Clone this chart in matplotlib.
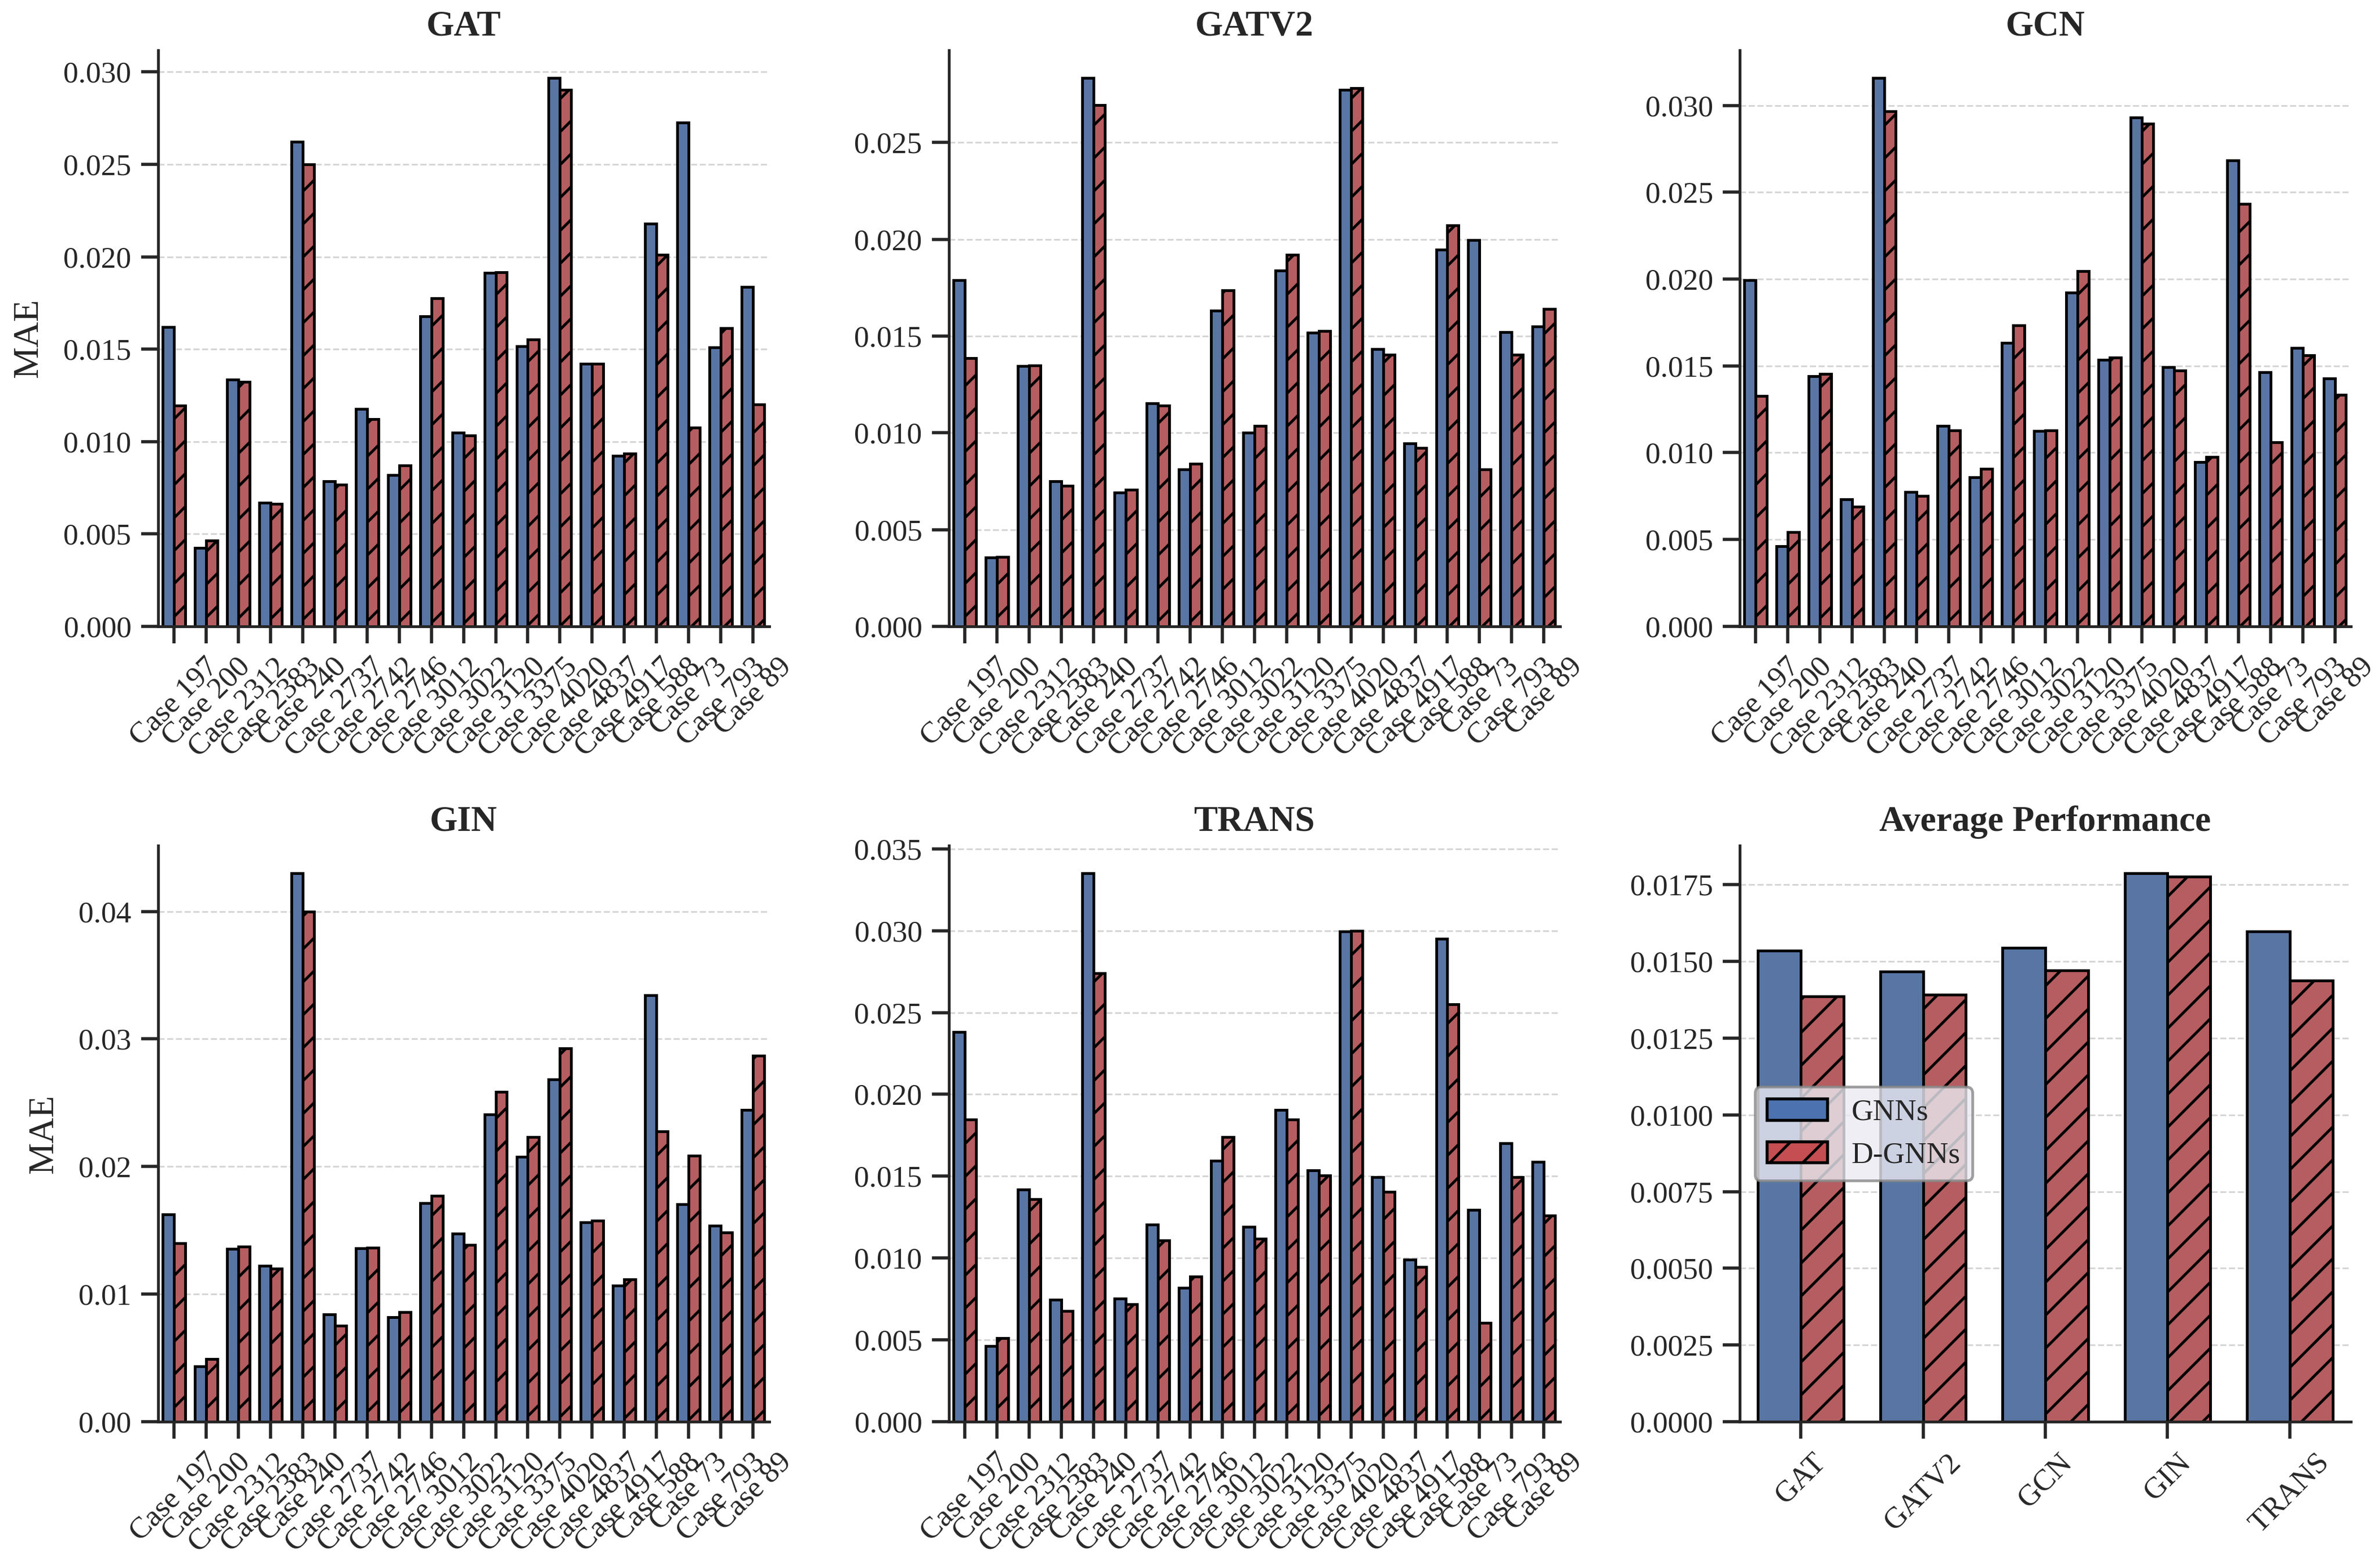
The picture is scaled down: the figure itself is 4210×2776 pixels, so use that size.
import numpy as np
import matplotlib
matplotlib.use('Agg')
from matplotlib import pyplot as plt
from matplotlib.patches import Patch

# test cases (x axis of the per-model panels)
cases = ['Case 197', 'Case 200', 'Case 2312', 'Case 2383', 'Case 240',
         'Case 2737', 'Case 2742', 'Case 2746', 'Case 3012', 'Case 3022',
         'Case 3120', 'Case 3375', 'Case 4020', 'Case 4837', 'Case 4917',
         'Case 588', 'Case 73', 'Case 793', 'Case 89']
models = ['GAT', 'GATV2', 'GCN', 'GIN', 'TRANS']

# MAE values: plain GNN vs D-GNN
gat_gnn = [0.01619, 0.00424, 0.01336, 0.00669, 0.02622, 0.00786, 0.01176, 0.00819, 0.01679, 0.01048,
           0.01913, 0.01515, 0.02968, 0.01421, 0.00923, 0.02180, 0.02725, 0.01509, 0.01836]
gat_dgnn = [0.01194, 0.00465, 0.01322, 0.00662, 0.02501, 0.00768, 0.01123, 0.00871, 0.01776, 0.01033,
            0.01917, 0.01554, 0.02905, 0.01421, 0.00936, 0.02012, 0.01075, 0.01614, 0.01201]

gatv2_gnn = [0.01789, 0.00356, 0.01345, 0.00750, 0.02834, 0.00692, 0.01152, 0.00810, 0.01630, 0.01002,
             0.01838, 0.01517, 0.02772, 0.01433, 0.00945, 0.01947, 0.01996, 0.01521, 0.01549]
gatv2_dgnn = [0.01386, 0.00360, 0.01347, 0.00728, 0.02695, 0.00705, 0.01140, 0.00840, 0.01735, 0.01037,
              0.01919, 0.01525, 0.02780, 0.01405, 0.00923, 0.02071, 0.00810, 0.01403, 0.01639]

gcn_gnn = [0.01995, 0.00461, 0.01441, 0.00733, 0.03158, 0.00774, 0.01154, 0.00858, 0.01634, 0.01125,
           0.01923, 0.01536, 0.02931, 0.01493, 0.00946, 0.02683, 0.01464, 0.01603, 0.01426]
gcn_dgnn = [0.01326, 0.00542, 0.01453, 0.00688, 0.02967, 0.00750, 0.01128, 0.00908, 0.01734, 0.01130,
            0.02047, 0.01548, 0.02893, 0.01472, 0.00977, 0.02434, 0.01061, 0.01560, 0.01333]

gin_gnn = [0.01623, 0.00435, 0.01354, 0.01221, 0.04299, 0.00841, 0.01360, 0.00818, 0.01714, 0.01474,
           0.02409, 0.02075, 0.02682, 0.01562, 0.01065, 0.03344, 0.01705, 0.01536, 0.02445]
gin_dgnn = [0.01399, 0.00490, 0.01373, 0.01201, 0.04000, 0.00753, 0.01364, 0.00860, 0.01770, 0.01386,
            0.02585, 0.02231, 0.02926, 0.01578, 0.01114, 0.02276, 0.02085, 0.01481, 0.02870]

trans_gnn = [0.02381, 0.00463, 0.01417, 0.00744, 0.03351, 0.00752, 0.01205, 0.00818, 0.01595, 0.01190,
             0.01906, 0.01534, 0.02997, 0.01493, 0.00990, 0.02949, 0.01293, 0.01701, 0.01589]
trans_dgnn = [0.01848, 0.00511, 0.01359, 0.00676, 0.02739, 0.00719, 0.01109, 0.00888, 0.01739, 0.01119,
              0.01848, 0.01506, 0.03000, 0.01405, 0.00944, 0.02551, 0.00605, 0.01493, 0.01258]

gnn_all = [gat_gnn, gatv2_gnn, gcn_gnn, gin_gnn, trans_gnn]
dgnn_all = [gat_dgnn, gatv2_dgnn, gcn_dgnn, gin_dgnn, trans_dgnn]

BLUE = '#5975a4'
RED = '#b55d60'
TXT = '#262626'
DPI = 350

plt.rcParams['font.family'] = ['Liberation Serif', 'DejaVu Serif']
plt.rcParams['hatch.linewidth'] = 1.0
plt.rcParams['text.color'] = TXT
plt.rcParams['axes.labelcolor'] = TXT
plt.rcParams['xtick.color'] = TXT
plt.rcParams['ytick.color'] = TXT


def _style(ax):
    ax.spines['top'].set_visible(False)
    ax.spines['right'].set_visible(False)
    for s in ['left', 'bottom']:
        ax.spines[s].set_linewidth(1.0)
        ax.spines[s].set_color(TXT)
    ax.tick_params(axis='both', length=6.2, width=1.15, labelsize=11)
    ax.yaxis.grid(True, linestyle='--', color='#d5d5d5', linewidth=0.6)
    ax.set_axisbelow(True)


def _pairbars(ax, labels, a, b, w=0.35):
    x = np.arange(len(labels))
    ax.bar(x - w/2, a, w, color=BLUE, edgecolor='black', linewidth=1.0)
    ax.bar(x + w/2, b, w, color=RED, edgecolor='black', linewidth=1.0, hatch='//')
    ax.set_xticks(x)
    ax.set_xticklabels(labels, rotation=45)
    ax.set_xlim(-0.5, len(labels) - 0.5)
    ax.set_ylim(0, 1.05 * max(max(a), max(b)))


fig, axes = plt.subplots(2, 3, figsize=(4210/DPI, 2776/DPI), dpi=DPI)
fig.subplots_adjust(left=0.0664, right=0.9886, top=0.9678, bottom=0.0933, wspace=0.294, hspace=0.381)

for i, m in enumerate(models):
    ax = axes.flat[i]
    _pairbars(ax, cases, gnn_all[i], dgnn_all[i])
    ax.set_title(m, fontsize=13, fontweight='bold', pad=5.5)
    if i % 3 == 0:
        ax.set_ylabel('MAE', fontsize=13, labelpad=6.5)
    _style(ax)

# last panel: mean over the cases
ax = axes.flat[5]
avg_gnn = [np.mean(v) for v in gnn_all]
avg_dgnn = [np.mean(v) for v in dgnn_all]
_pairbars(ax, models, avg_gnn, avg_dgnn)
ax.set_title('Average Performance', fontsize=13, fontweight='bold', pad=5.5)
_style(ax)

handles = [Patch(facecolor='#4c72b0', edgecolor='black', linewidth=1.1, label='GNNs'),
           Patch(facecolor='#c44e52', edgecolor='black', linewidth=1.1, hatch='//', label='D-GNNs')]
leg = ax.legend(handles=handles, loc='center left', fontsize=11, frameon=True,
                facecolor='#eaeaf2', framealpha=0.8, edgecolor='#888888')
leg.get_frame().set_linewidth(1.0)

fig.savefig('out.png', dpi=DPI)
